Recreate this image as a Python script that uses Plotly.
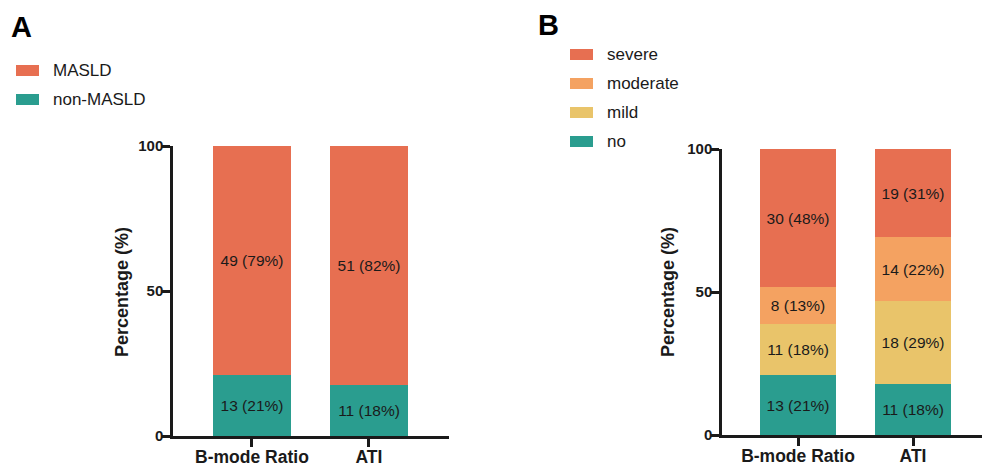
import plotly.graph_objects as go

# ---------------- data ----------------
categories = ["B-mode Ratio", "ATI"]

# Panel A
a_series = ["non-MASLD", "MASLD"]
a_counts = {"non-MASLD": [13, 11], "MASLD": [49, 51]}
a_pct_labels = {"non-MASLD": [21, 18], "MASLD": [79, 82]}

# Panel B
b_series = ["no", "mild", "moderate", "severe"]
b_counts = {"no": [13, 11], "mild": [11, 18], "moderate": [8, 14], "severe": [30, 19]}
b_pct_labels = {"no": [21, 18], "mild": [18, 29], "moderate": [13, 22], "severe": [48, 31]}

totals = [62, 62]
y_ticks = [0, 50, 100]

colors = {
    "MASLD": "#E76F51",
    "non-MASLD": "#2A9D8F",
    "severe": "#E76F51",
    "moderate": "#F4A261",
    "mild": "#E9C46A",
    "no": "#2A9D8F",
}

FONT = "Liberation Sans, Arial, Helvetica, sans-serif"
W, H = 982, 467

fig = go.Figure()


def add_bars(series, counts, pcts, xa, ya):
    for s in series:
        ys = [c / t * 100 for c, t in zip(counts[s], totals)]
        txt = [f"{c} ({p}%)" for c, p in zip(counts[s], pcts[s])]
        fig.add_trace(go.Bar(
            x=categories, y=ys, name=s, text=txt,
            textposition="inside", insidetextanchor="middle", textangle=0,
            textfont=dict(family=FONT, size=15.5, color="#1a1a1a"),
            marker=dict(color=colors[s], line=dict(width=0)),
            width=0.667, xaxis=xa, yaxis=ya, showlegend=False,
            hoverinfo="skip",
        ))


add_bars(a_series, a_counts, a_pct_labels, "x", "y")
add_bars(b_series, b_counts, b_pct_labels, "x2", "y2")


def px_x(v):
    return v / W


def px_y(v):
    return 1 - v / H


axis_common = dict(
    showgrid=False, zeroline=False, showline=True, linecolor="#1a1a1a",
    linewidth=2.5, ticks="outside", tickwidth=2.5, tickcolor="#1a1a1a",
    ticklen=8, mirror=False, automargin=False,
)

xtickfont = dict(family=FONT, size=17.5, color="#1a1a1a", weight="bold")
ytickfont = dict(family=FONT, size=15, color="#1a1a1a", weight="bold")

fig.update_layout(
    template="none",
    width=W, height=H, margin=dict(l=0, r=0, t=0, b=0, pad=0),
    paper_bgcolor="white", plot_bgcolor="white",
    barmode="stack", bargap=0, uniformtext=dict(mode="show", minsize=8),
    xaxis=dict(domain=[px_x(173), px_x(449)], range=[-0.675, 1.684],
               anchor="y", type="category", tickfont=xtickfont,
               ticklabelstandoff=-5, **axis_common),
    yaxis=dict(domain=[px_y(436), px_y(146)], range=[0, 100], anchor="x",
               tickvals=y_ticks, ticklabelstandoff=-4, tickfont=ytickfont,
               **axis_common),
    xaxis2=dict(domain=[px_x(722), 1.0], range=[-0.661, 1.6],
                anchor="y2", type="category", tickfont=xtickfont,
                ticklabelstandoff=-5, **axis_common),
    yaxis2=dict(domain=[px_y(435), px_y(149)], range=[0, 100], anchor="x2",
                tickvals=y_ticks, ticklabelstandoff=-4, tickfont=ytickfont,
                **axis_common),
)

shapes = []
annotations = []

# panel letters
annotations.append(dict(text="<b>A</b>", x=px_x(9), y=px_y(27), xref="paper", yref="paper",
                        xanchor="left", yanchor="middle", showarrow=False,
                        font=dict(family=FONT, size=29, color="black")))
annotations.append(dict(text="<b>B</b>", x=px_x(536), y=px_y(25), xref="paper", yref="paper",
                        xanchor="left", yanchor="middle", showarrow=False,
                        font=dict(family=FONT, size=29, color="black")))

# y-axis titles
for xc in (122, 668):
    annotations.append(dict(text="<b>Percentage (%)</b>", x=px_x(xc), y=px_y(292),
                            xref="paper", yref="paper", textangle=-90,
                            xanchor="center", yanchor="middle", showarrow=False,
                            font=dict(family=FONT, size=18, color="#1a1a1a")))

# manual legends
legend_a = ["MASLD", "non-MASLD"]
legend_b = ["severe", "moderate", "mild", "no"]


def add_legend(items, x0, x1, xt, y_start, step):
    for i, s in enumerate(items):
        yc = y_start + i * step
        shapes.append(dict(type="rect", xref="paper", yref="paper",
                           x0=px_x(x0), x1=px_x(x1), y0=px_y(yc + 5.5), y1=px_y(yc - 5.5),
                           fillcolor=colors[s], line=dict(width=0)))
        annotations.append(dict(text=s, x=px_x(xt), y=px_y(yc), xref="paper", yref="paper",
                                xanchor="left", yanchor="middle", showarrow=False,
                                font=dict(family=FONT, size=17, color="#1a1a1a")))


add_legend(legend_a, 16, 39, 51, 70.5, 29)
add_legend(legend_b, 570, 593, 605, 54.5, 29)

fig.update_layout(shapes=shapes, annotations=annotations)

fig.write_html("out.html")
